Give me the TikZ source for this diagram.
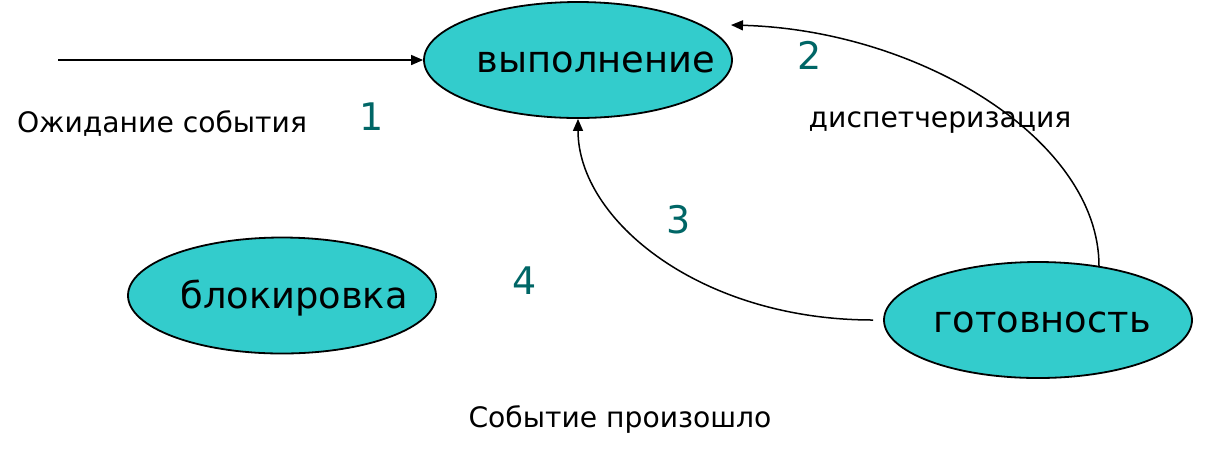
\documentclass[tikz,border=0pt]{standalone}
\usepackage{fontspec}
\setmainfont{DejaVu Sans}
\usetikzlibrary{arrows.meta,shapes.geometric}
\definecolor{statefill}{HTML}{33CCCC}
\definecolor{numcolor}{HTML}{006666}
\tikzset{
    state/.style={ellipse,draw=black,fill=statefill,line width=0.9pt,
        minimum width=154pt,minimum height=58pt,inner sep=0pt},
    statetext/.style={font=\fontsize{18.4}{18}\selectfont},
    note/.style={font=\fontsize{14.1}{14}\selectfont},
    num/.style={font=\fontsize{19}{19}\selectfont,text=numcolor},
    conn/.style={line width=0.75pt,-{Triangle[length=6pt,width=5pt]}}
}
\begin{document}
\begin{tikzpicture}[x=0.5pt,y=-0.5pt]
\useasboundingbox (0,0) rectangle (1215,452);

% states
\node[state] (run)   at (578,60)   {};
\node[state] (block) at (282,295.5) {};
\node[state] (ready) at (1038,320) {};
\node[statetext] (runtxt)   at (596,62)  {выполнение};
\node[statetext] (blocktxt) at (294,298) {блокировка};
\node[statetext] (readytxt) at (1042,322) {готовность};

% connectors
\coordinate (start) at (58,60);
\coordinate (from2) at (1099,266);
\coordinate (to2)   at (731,25);
\coordinate (from3) at (873,320);
\draw[conn] (start) -- (run.west);
\draw[conn] (from2) .. controls (1099,140) and (920,30) .. (to2);
\draw[conn] (from3) .. controls (700,320) and (578,220) .. (run.south);

% labels
\node[note] (wait)     at (162,123) {Ожидание события};
\node[note] (dispatch) at (940,123) {диспетчеризация};
\node[note] (event)    at (620,419) {Событие произошло};
\node[num] (n1) at (372,117) {1};
\node[num] (n2) at (810,55)  {2};
\node[num] (n3) at (679,220) {3};
\node[num] (n4) at (525,281) {4};

\end{tikzpicture}
\end{document}
